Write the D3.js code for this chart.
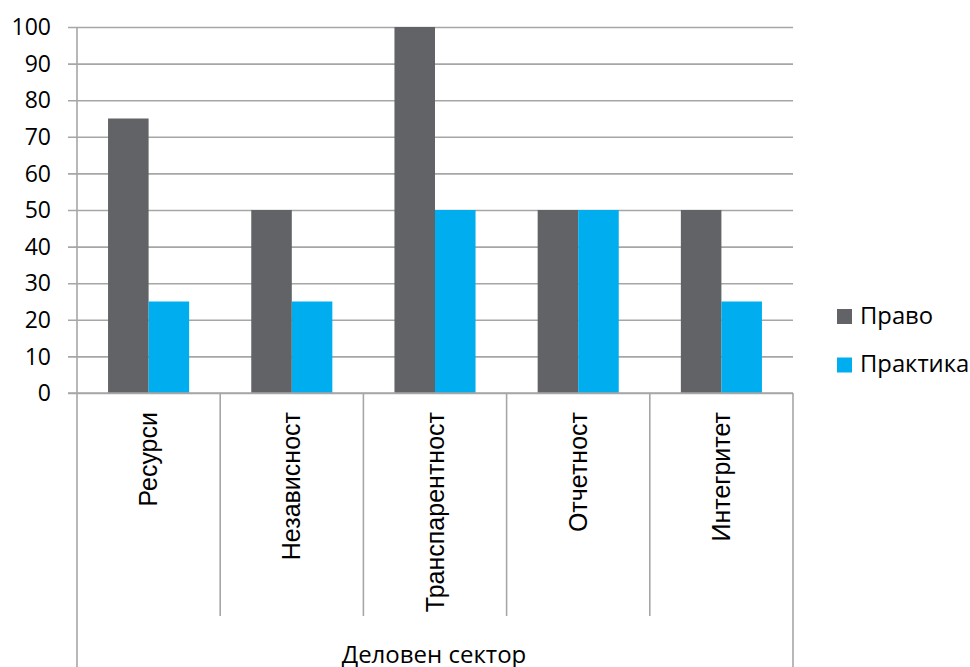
<!DOCTYPE html>
<html>
<head>
<meta charset="utf-8">
<script src="https://cdn.jsdelivr.net/npm/d3@7"></script>
<style>
  html, body { margin: 0; padding: 0; background: #fff; }
  svg { display: block; }
</style>
</head>
<body>
<svg id="chart" width="970" height="667"></svg>
<script>
// Categories, series and tick values
const categories = ["Ресурси", "Независност", "Транспарентност", "Отчетност", "Интегритет"];
const seriesNames = ["Право", "Практика"];
const pravo = [75, 50, 100, 50, 50];
const praktika = [25, 25, 50, 50, 25];
const yTicks = [0, 10, 20, 30, 40, 50, 60, 70, 80, 90, 100];
const groupLabel = "Деловен сектор";
const colors = ["#626366", "#00aeef"];

const svg = d3.select("#chart");
const plotLeft = 77, plotRight = 793, plotTop = 27, plotBottom = 393;
const gridColor = "#a6a6a6";

const x = d3.scaleBand().domain(categories).range([plotLeft, plotRight]).paddingInner(0).paddingOuter(0);
const inner = d3.scaleBand().domain(seriesNames).range([0, x.bandwidth()]).paddingInner(0).paddingOuter(0.766);
const y = d3.scaleLinear().domain([0, 100]).range([plotBottom, plotTop]);

// Horizontal gridlines with outward ticks
const yAxis = d3.axisLeft(y).tickValues(yTicks).tickSize(-(plotRight - plotLeft)).tickPadding(0).tickFormat("");
const gy = svg.append("g").attr("transform", `translate(${plotLeft},0)`).call(yAxis);
gy.select(".domain").remove();
gy.selectAll(".tick line").attr("x1", -9).attr("stroke", gridColor).attr("stroke-width", 1.6);

// Tick labels
svg.append("g").selectAll("text").data(yTicks).join("text")
  .attr("x", 51).attr("y", d => y(d))
  .attr("dy", "0.36em")
  .attr("text-anchor", "end")
  .attr("font-family", "'Open Sans', sans-serif")
  .attr("font-size", 23)
  .attr("fill", "#000")
  .text(d => d);

// Bars
const data = categories.map((c, i) => ({ cat: c, values: [pravo[i], praktika[i]] }));
const groups = svg.append("g").selectAll("g").data(data).join("g")
  .attr("transform", d => `translate(${x(d.cat)},0)`);
groups.selectAll("rect").data(d => d.values.map((v, j) => ({ name: seriesNames[j], v, j })))
  .join("rect")
  .attr("x", d => inner(d.name))
  .attr("width", inner.bandwidth())
  .attr("y", d => y(d.v))
  .attr("height", d => y(0) - y(d.v))
  .attr("fill", d => colors[d.j]);

// Axis lines
svg.append("line").attr("x1", plotLeft).attr("x2", plotLeft).attr("y1", plotTop).attr("y2", 667)
  .attr("stroke", gridColor).attr("stroke-width", 1.6);
svg.append("line").attr("x1", 68).attr("x2", plotRight).attr("y1", plotBottom).attr("y2", plotBottom)
  .attr("stroke", gridColor).attr("stroke-width", 1.6);
svg.append("line").attr("x1", plotRight).attr("x2", plotRight).attr("y1", plotBottom).attr("y2", 667)
  .attr("stroke", gridColor).attr("stroke-width", 1.6);

// Category separators
svg.append("g").selectAll("line").data(categories.slice(1)).join("line")
  .attr("x1", d => x(d)).attr("x2", d => x(d))
  .attr("y1", plotBottom).attr("y2", 616)
  .attr("stroke", gridColor).attr("stroke-width", 1.6);

// Rotated category labels
svg.append("g").selectAll("text").data(categories).join("text")
  .attr("transform", d => `translate(${x(d) + x.bandwidth() / 2 + 8.5},412) rotate(-90)`)
  .attr("text-anchor", "end")
  .attr("font-family", "'Liberation Sans', Arial, sans-serif")
  .attr("font-size", 25)
  .attr("fill", "#000")
  .text(d => d);

// Outer group label
svg.append("text")
  .attr("x", (plotLeft + plotRight) / 2 - 1).attr("y", 663)
  .attr("text-anchor", "middle")
  .attr("font-family", "'Open Sans', sans-serif")
  .attr("font-size", 24)
  .attr("fill", "#000")
  .text(groupLabel);

// Legend
const legend = svg.append("g").selectAll("g").data(seriesNames).join("g")
  .attr("transform", (d, i) => `translate(837,${309 + i * 48.5})`);
legend.append("rect").attr("width", 15).attr("height", 15).attr("fill", (d, i) => colors[i]);
legend.append("text")
  .attr("x", 23).attr("y", 14.5)
  .attr("font-family", "'Open Sans', sans-serif")
  .attr("font-size", 23.8)
  .attr("fill", "#000")
  .text(d => d);
</script>
</body>
</html>
